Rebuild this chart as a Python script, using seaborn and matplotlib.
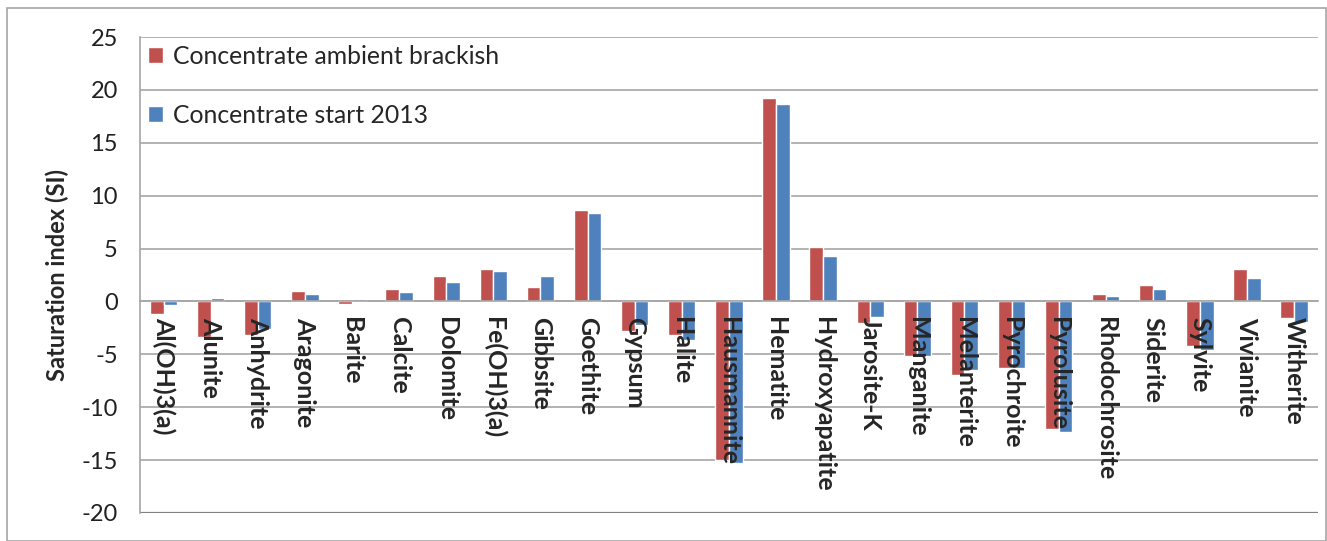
import pandas as pd
import matplotlib.pyplot as plt
import seaborn as sns
from matplotlib.patches import Rectangle

minerals = ['Al(OH)3(a)', 'Alunite', 'Anhydrite', 'Aragonite', 'Barite', 'Calcite',
            'Dolomite', 'Fe(OH)3(a)', 'Gibbsite', 'Goethite', 'Gypsum', 'Halite',
            'Hausmannite', 'Hematite', 'Hydroxyapatite', 'Jarosite-K', 'Manganite',
            'Melanterite', 'Pyrochroite', 'Pyrolusite', 'Rhodochrosite', 'Siderite',
            'Sylvite', 'Vivianite', 'Witherite']
ambient_brackish = [-1.2, -3.4, -3.2, 1.0, -0.2, 1.2, 2.4, 3.1, 1.4, 8.6, -2.8, -3.2,
                    -15.0, 19.2, 5.1, -2.0, -5.2, -7.0, -6.3, -12.1, 0.75, 1.6, -4.2,
                    3.1, -1.6]
start_2013 = [-0.3, 0.3, -2.6, 0.7, 0.25, 0.85, 1.8, 2.9, 2.4, 8.4, -2.2, -3.6,
              -15.3, 18.7, 4.3, -1.5, -5.2, -6.5, -6.3, -12.3, 0.5, 1.2, -4.6,
              2.2, -1.9]
series_names = ['Concentrate ambient brackish', 'Concentrate start 2013']
yticks = list(range(-20, 30, 5))

df = pd.DataFrame({
    'mineral': minerals * 2,
    'SI': ambient_brackish + start_2013,
    'series': [series_names[0]] * len(minerals) + [series_names[1]] * len(minerals),
})

sns.set_style('white')
plt.rcParams['font.family'] = ['Lato', 'DejaVu Sans']
plt.rcParams['axes.unicode_minus'] = False

fig = plt.figure(figsize=(13.27, 5.41), dpi=100)
ax = fig.add_axes([0.1055, 0.0518, 0.8875, 0.8798])

sns.barplot(data=df, x='mineral', y='SI', hue='series', order=minerals,
            hue_order=series_names, palette=['#C0504D', '#4F81BD'],
            width=0.58, saturation=1, ax=ax, errorbar=None, zorder=1)

ax.set_ylim(-20, 25)
ax.set_xlim(-0.5, len(minerals) - 0.5)
ax.set_yticks(yticks)
# grid drawn by hand so the tick labels can sit on top of the bars
for y in yticks:
    ax.axhline(y, color='#a6a6a6', linewidth=1.2, zorder=0)
ax.axhline(-20, color='#808080', linewidth=1.6, zorder=0)
ax.set_axisbelow(False)

for s in ['top', 'right']:
    ax.spines[s].set_visible(False)
ax.spines['left'].set_color('#a6a6a6')
ax.spines['left'].set_linewidth(1.2)
ax.spines['bottom'].set_position(('data', 0))
ax.spines['bottom'].set_color('#a6a6a6')
ax.spines['bottom'].set_linewidth(1.2)

ax.tick_params(axis='y', length=8, width=1.2, color='#a6a6a6', labelsize=17,
               labelcolor='#202020', pad=8)
ax.set_xticks(range(len(minerals)))
ax.set_xticklabels(minerals, rotation=-90, fontsize=18, fontweight='bold',
                   va='top', ha='center')
ax.tick_params(axis='x', which='major', length=0, pad=11)
ax.set_xticks([i + 0.5 for i in range(-1, len(minerals))], minor=True)
ax.tick_params(axis='x', which='minor', length=7, width=1.2, color='#a6a6a6')

ax.set_xlabel('')
ax.set_ylabel('Saturation index (SI)', fontsize=17, fontweight='bold', labelpad=9)

ax.legend(loc='upper left', bbox_to_anchor=(-0.01, 1.025), frameon=False, fontsize=17.8,
          handlelength=0.6, handleheight=0.6, handletextpad=0.4, labelspacing=1.45,
          borderaxespad=0.4)

fig.patches.append(Rectangle((0.005, 0.0), 0.994, 0.985, transform=fig.transFigure,
                             fill=False, edgecolor='#a6a6a6', linewidth=1.2))

fig.savefig('out.png', dpi=100)
